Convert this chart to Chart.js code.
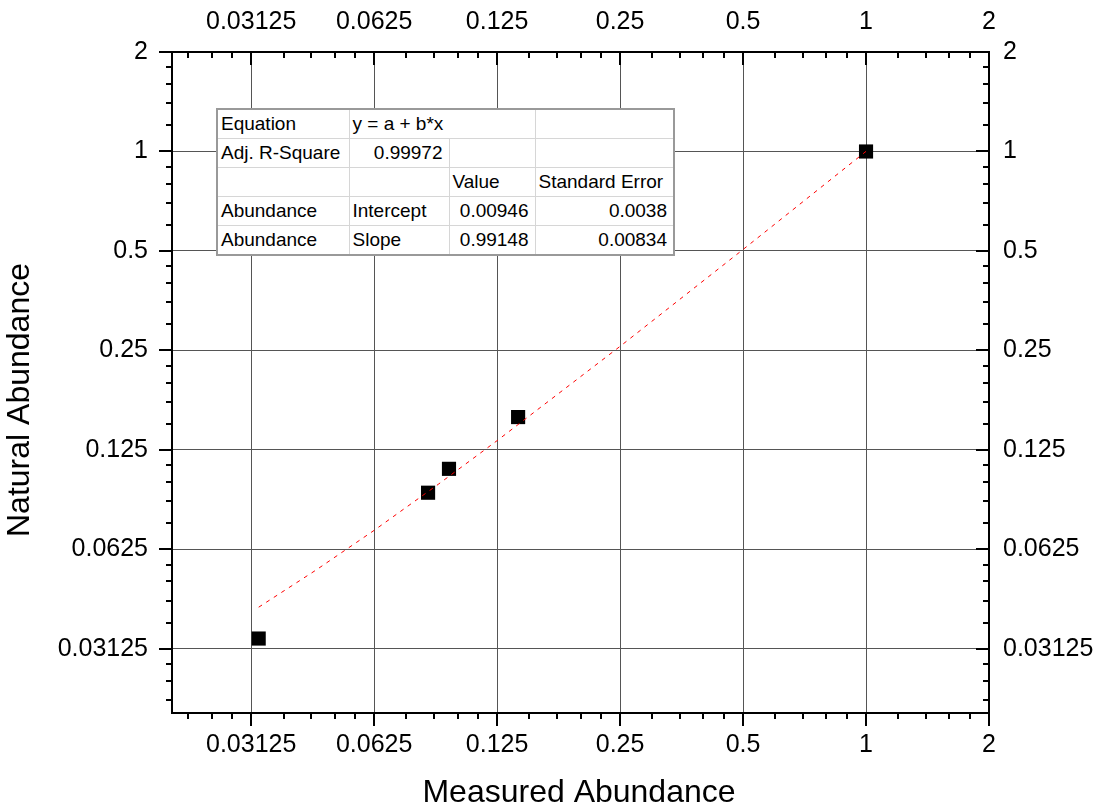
<!DOCTYPE html>
<html>
<head>
<meta charset="utf-8">
<title>Natural vs Measured Abundance</title>
<script src="https://cdn.jsdelivr.net/npm/chart.js@4.4.1/dist/chart.umd.min.js"></script>
<style>
  body { margin: 0; background: #fff; }
  #wrap { position: relative; width: 1099px; height: 808px; }
  #fitTable {
    position: absolute; left: 216px; top: 108px; width: 457px;
    border-collapse: collapse; table-layout: fixed;
    font-family: "Liberation Sans", Arial, sans-serif; font-size: 19px;
    background: #fff; border: 2px solid #999;
  }
  #fitTable td {
    border: 1px solid #d6d6d6; height: 28px; padding: 0 6px 0 3px;
    white-space: nowrap; overflow: hidden; color: #000; line-height: 20px;
  }
  #fitTable td.num { text-align: right; }
</style>
</head>
<body>
<div id="wrap">
  <canvas id="myChart" width="1099" height="808"></canvas>
  <table id="fitTable">
    <colgroup><col style="width:132px"><col style="width:100px"><col style="width:86px"><col style="width:139px"></colgroup>
    <tbody></tbody>
  </table>
</div>
<script>
//DATA
var measured = [0.0326, 0.0847, 0.0953, 0.1407, 1.0];
var natural  = [0.0336, 0.0928, 0.1096, 0.1572, 1.0];

// fitted line
var fitX = [0.0326, 0.045, 0.0625, 0.09, 0.125, 0.25, 0.5, 1.0];
var fitY = [0.0418, 0.0541, 0.0714, 0.0987, 0.1334, 0.2573, 0.5052, 1.0009];

// axis ticks (log2)
var majorTicks = [0.03125, 0.0625, 0.125, 0.25, 0.5, 1, 2];
var minorSteps = [1.2, 1.4, 1.6, 1.8];
var axisMin = 0.02, axisMax = 2;

// fit table text
var seriesName = "Abundance";
var fitEquation = "y = a + b*x";
var adjRSquare = "0.99972";
var fitParams = ["Intercept", "Slope"];
var fitValues = ["0.00946", "0.99148"];
var fitErrors = ["0.0038", "0.00834"];

//minor tick list
var minorTicks = [];
[0.015625].concat(majorTicks).forEach(function(m){
  minorSteps.forEach(function(s){
    var v = m*s;
    if (v > axisMin && v < axisMax) minorTicks.push(v);
  });
});

//build table
var rows = "";
rows += "<tr><td>Equation</td><td colspan='2'>"+fitEquation+"</td><td></td></tr>";
rows += "<tr><td>Adj. R-Square</td><td class='num'>"+adjRSquare+"</td><td></td><td></td></tr>";
rows += "<tr><td></td><td></td><td>Value</td><td>Standard Error</td></tr>";
for (var i = 0; i < fitParams.length; i++) {
  rows += "<tr><td>"+seriesName+"</td><td>"+fitParams[i]+"</td><td class='num'>"+fitValues[i]+"</td><td class='num'>"+fitErrors[i]+"</td></tr>";
}
document.querySelector("#fitTable tbody").innerHTML = rows;

var FONT = '"Liberation Sans", Arial, sans-serif';

function pts(xs, ys){
  return xs.map(function(x, i){ return {x: x, y: ys[i]}; });
}

function logAxis(pos, size, pad, showGrid){
  return {
    type: 'logarithmic',
    position: pos,
    min: axisMin,
    max: axisMax,
    bounds: 'data',
    afterBuildTicks: function(scale){
      scale.ticks = majorTicks.map(function(v){ return {value: v}; });
    },
    afterFit: function(scale){
      if (scale.isHorizontal()) scale.height = size;
      else scale.width = size;
    },
    grid: { display: showGrid, drawTicks: false, color: '#555', lineWidth: 1 },
    border: { display: true, color: '#000', width: 2 },
    ticks: {
      autoSkip: false, maxRotation: 0, minRotation: 0, padding: pad,
      color: '#000', font: { family: FONT, size: 25 },
      callback: function(v){ return String(v); }
    }
  };
}

//tick marks + axis titles
var frameTicks = {
  id: 'frameTicks',
  afterDraw: function(chart){
    var ctx = chart.ctx, a = chart.chartArea;
    var xs = chart.scales.x, ys = chart.scales.y;
    ctx.save();
    ctx.strokeStyle = '#000';
    ctx.lineWidth = 2;
    function drawSet(list, len){
      list.forEach(function(v){
        var px = Math.round(xs.getPixelForValue(v));
        var py = Math.round(ys.getPixelForValue(v));
        ctx.beginPath();
        ctx.moveTo(px, a.bottom); ctx.lineTo(px, a.bottom + len);   //bottom out
        ctx.moveTo(px, a.top); ctx.lineTo(px, a.top + len);         //top in
        ctx.moveTo(a.left, py); ctx.lineTo(a.left - len, py);       //left out
        ctx.moveTo(a.right, py); ctx.lineTo(a.right - len, py);     //right in
        ctx.stroke();
      });
    }
    drawSet(majorTicks, 13);
    drawSet(minorTicks, 6);

    ctx.fillStyle = '#000';
    ctx.font = '32px ' + FONT;
    ctx.textAlign = 'center';
    ctx.textBaseline = 'middle';
    ctx.fillText('Measured Abundance', 579, 793);
    ctx.translate(20, 400);
    ctx.rotate(-Math.PI/2);
    ctx.fillText('Natural Abundance', 0, 0);
    ctx.restore();
  }
};

var ctx = document.getElementById('myChart').getContext('2d');
var myChart = new Chart(ctx, {
  type: 'scatter',
  data: {
    datasets: [{
      type: 'line',
      label: 'Linear Fit',
      data: pts(fitX, fitY),
      borderColor: '#ff0000',
      borderWidth: 1,
      borderDash: [4, 5],
      pointRadius: 0,
      fill: false,
      tension: 0
    }, {
      label: 'Abundance',
      data: pts(measured, natural),
      pointStyle: 'rect',
      pointRadius: 10,
      backgroundColor: '#000',
      borderColor: '#000',
      borderWidth: 0
    }]
  },
  options: {
    responsive: false,
    animation: false,
    layout: { padding: 0 },
    plugins: {
      legend: { display: false },
      tooltip: { enabled: false }
    },
    scales: {
      x:  logAxis('bottom', 95, 17, true),
      x2: logAxis('top', 52, 15, false),
      y:  logAxis('left', 172, 24, true),
      y2: logAxis('right', 110, 14, false)
    }
  },
  plugins: [frameTicks]
});
</script>
</body>
</html>
